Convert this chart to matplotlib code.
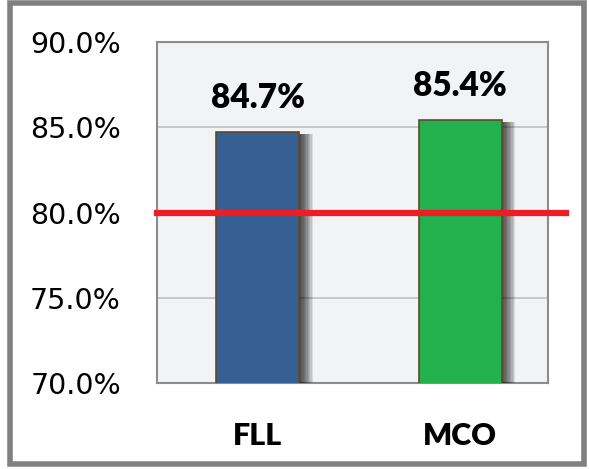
import matplotlib.pyplot as plt
import matplotlib.patheffects as pe
from matplotlib.patches import Rectangle

# compliance rates per site, target line at 80%
sites = ["FLL", "MCO"]
rates = [84.7, 85.4]
bar_colors = ["#366094", "#22B14C"]
target = 80.0
y_ticks = [70, 75, 80, 85, 90]

plt.rcParams['font.family'] = ['Lato', 'DejaVu Sans']

fig = plt.figure(figsize=(5.89, 4.69), dpi=100)
ax = fig.add_axes([0.2666, 0.1834, 0.6638, 0.727])
ax.set_facecolor("#F2F3F5")

# soft drop shadow to the right of each bar
shadow = [pe.SimplePatchShadow(offset=(d, -1), shadow_rgbFace="k", alpha=0.1)
          for d in range(1, 11)]
bars = ax.bar(range(len(sites)), rates, width=0.41, color=bar_colors,
              edgecolor="#5C4A2C", linewidth=1.2, zorder=3)
for b in bars:
    b.set_path_effects(shadow + [pe.Normal()])

for i, v in enumerate(rates):
    ax.text(i, v + 1.1, f"{v:.1f}%", ha="center", va="bottom",
            fontsize=24, fontweight="heavy", zorder=5)

# target line runs a bit past the plot area
ax.axhline(target, xmin=0, xmax=1.046, color="#EE1C25", linewidth=4.5,
           clip_on=False, zorder=4)

ax.set_xlim(-0.499, 1.435)
ax.set_ylim(70, 90)
ax.set_yticks(y_ticks)
ax.set_yticklabels([f"{t:.1f}%" for t in y_ticks], fontsize=20.5,
                   family="DejaVu Sans")
ax.set_xticks(range(len(sites)))
ax.set_xticklabels(sites, fontsize=22, fontweight="heavy")
ax.tick_params(axis="y", length=0, pad=26)
ax.tick_params(axis="x", length=0, pad=28)
ax.grid(axis="y", color="#C0C0C0", linewidth=1.2, zorder=0)
ax.set_axisbelow(True)
for s in ax.spines.values():
    s.set_color("#8C8C8C")
    s.set_linewidth(1.5)

# outer frame around the whole chart
fig.patches.append(Rectangle((0.017, 0.01), 0.975, 0.983, transform=fig.transFigure,
                             fill=False, edgecolor="#808080", linewidth=4))

fig.savefig("out.png", dpi=100)
